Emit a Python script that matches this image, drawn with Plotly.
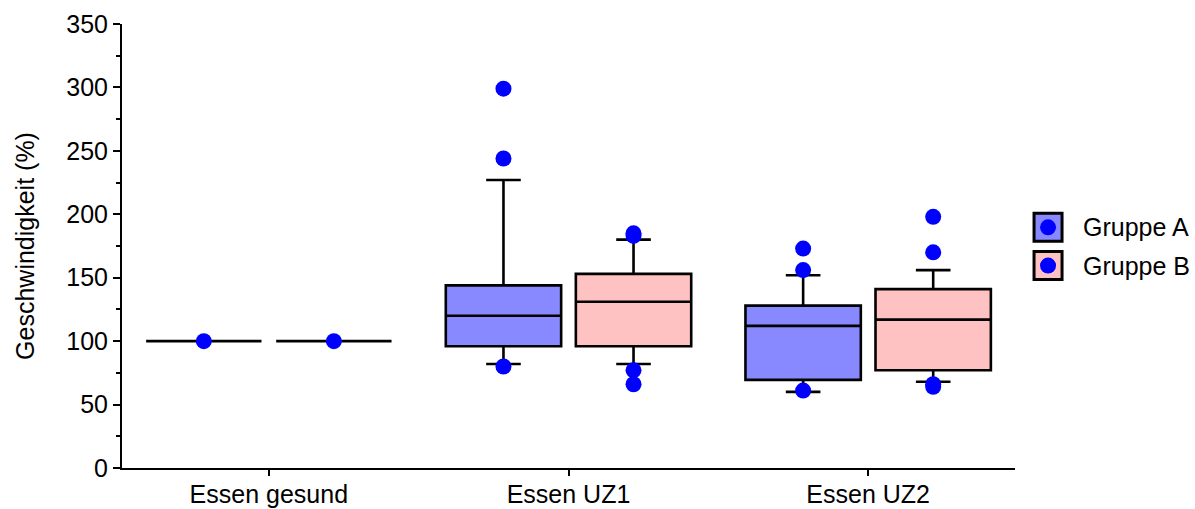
import plotly.graph_objects as go

categories = ["Essen gesund", "Essen UZ1", "Essen UZ2"]

# Gruppe A box statistics
a_q1 = [100, 96, 69.5]
a_median = [100, 120, 112]
a_q3 = [100, 144, 128]
a_low = [100, 82, 60]
a_high = [100, 227, 152]

# Gruppe B box statistics
b_q1 = [100, 96, 77]
b_median = [100, 131, 117]
b_q3 = [100, 153, 141]
b_low = [100, 82, 68]
b_high = [100, 180, 156]

# Individual points (outliers)
a_pts_x = ["Essen gesund", "Essen UZ1", "Essen UZ1", "Essen UZ1",
           "Essen UZ2", "Essen UZ2", "Essen UZ2"]
a_pts_y = [100, 299, 244, 80, 173, 156, 61]
b_pts_x = ["Essen gesund", "Essen UZ1", "Essen UZ1", "Essen UZ1", "Essen UZ1",
           "Essen UZ2", "Essen UZ2", "Essen UZ2", "Essen UZ2"]
b_pts_y = [100, 185, 183, 77, 66, 198, 170, 66, 64]

y_ticks = [0, 50, 100, 150, 200, 250, 300, 350]

FONT = "Liberation Sans, Arial, sans-serif"
COL_A = "#8888ff"
COL_B = "#ffc2c2"
DOT = "#0000ff"

fig = go.Figure()
for name, grp, col, q1, med, q3, lo, hi in [
    ("Gruppe A", "A", COL_A, a_q1, a_median, a_q3, a_low, a_high),
    ("Gruppe B", "B", COL_B, b_q1, b_median, b_q3, b_low, b_high),
]:
    fig.add_trace(go.Box(
        x=categories, q1=q1, median=med, q3=q3, lowerfence=lo, upperfence=hi,
        name=name, offsetgroup=grp, alignmentgroup="g",
        fillcolor=col, line=dict(color="black", width=2.6),
        whiskerwidth=0.3, boxpoints=False, showlegend=False,
    ))

for name, grp, xs, ys in [("Gruppe A", "A", a_pts_x, a_pts_y),
                          ("Gruppe B", "B", b_pts_x, b_pts_y)]:
    fig.add_trace(go.Scatter(
        x=xs, y=ys, mode="markers", name=name,
        offsetgroup=grp, alignmentgroup="g",
        marker=dict(color=DOT, size=16, line=dict(width=0)),
        showlegend=False,
    ))

# Manual legend (box icon with dot)
shapes = []
annotations = []
for i, (label, col) in enumerate([("Gruppe A", COL_A), ("Gruppe B", COL_B)]):
    yc = 0.542 - i * 0.086
    shapes.append(dict(type="rect", xref="paper", yref="paper",
                       xsizemode="pixel", ysizemode="pixel",
                       xanchor=1.037, yanchor=yc,
                       x0=-14, x1=14, y0=-14, y1=14,
                       fillcolor=col, line=dict(color="black", width=3)))
    shapes.append(dict(type="circle", xref="paper", yref="paper",
                       xsizemode="pixel", ysizemode="pixel",
                       xanchor=1.037, yanchor=yc,
                       x0=-8, x1=8, y0=-8, y1=8,
                       fillcolor=DOT, line=dict(width=0)))
    annotations.append(dict(text=label, xref="paper", yref="paper",
                            x=1.074, y=yc, xanchor="left", yanchor="middle",
                            showarrow=False, font=dict(size=25, color="black", family=FONT)))

fig.update_layout(
    width=1195, height=509,
    margin=dict(l=122, r=180, t=24, b=41, autoexpand=False),
    paper_bgcolor="white", plot_bgcolor="white",
    boxmode="group", boxgap=0.132, boxgroupgap=0.113,
    scattermode="group", scattergap=0.132,
    font=dict(family=FONT, size=25, color="black"),
    shapes=shapes, annotations=annotations,
    showlegend=False,
)
fig.update_yaxes(
    automargin=False,
    range=[0, 350], tickvals=y_ticks, ticks="outside", ticklen=7, tickwidth=1.5,
    tickcolor="black", showline=True, linecolor="black", linewidth=2,
    showgrid=False, zeroline=False,
    minor=dict(ticks="outside", ticklen=4, tickwidth=1.5, tickcolor="black",
               dtick=25, showgrid=False),
    tickfont=dict(size=25), title=dict(text="Geschwindigkeit (%)", font=dict(size=25), standoff=25),
)
fig.update_xaxes(
    automargin=False,
    type="category", categoryorder="array", categoryarray=categories,
    range=[-0.49, 2.49], ticks="outside", ticklen=6, tickwidth=1.5, tickcolor="black",
    showline=True, linecolor="black", linewidth=2, showgrid=False, zeroline=False,
    tickfont=dict(size=25), ticklabelstandoff=-3,
)

fig.write_html("out.html", config={"displayModeBar": False},
               post_script="document.body.style.margin='0';document.body.style.overflow='hidden';")
